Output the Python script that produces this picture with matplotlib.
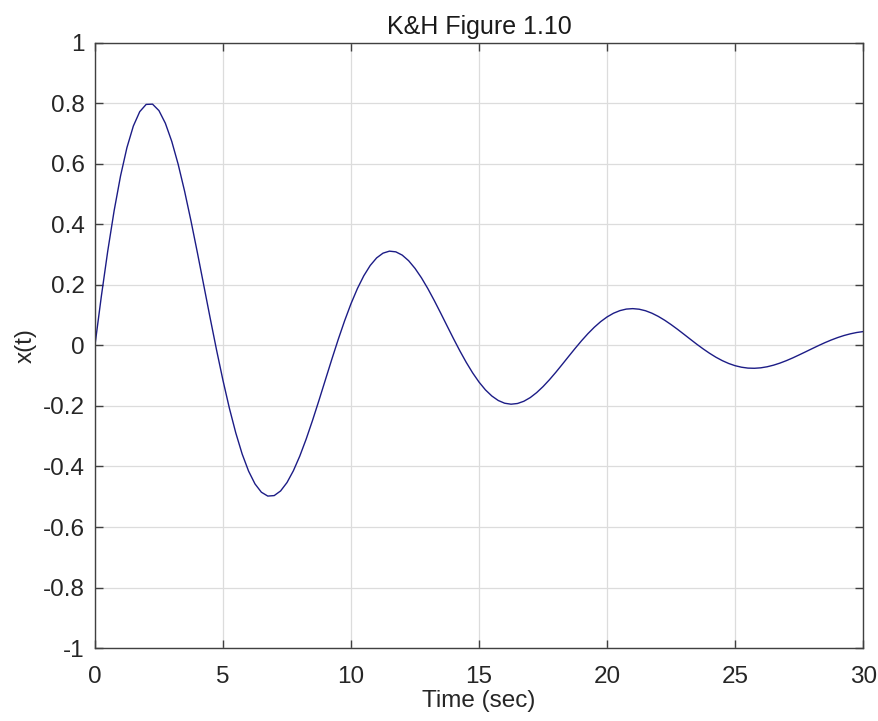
import matplotlib
matplotlib.use("Agg")
import matplotlib.pyplot as plt

# values, every 0.25 s
time_sec = [i * 0.25 for i in range(121)]
x_t = [
    0.0, 0.1618, 0.3113, 0.4448, 0.5595, 0.6532, 0.7243, 0.7718, 0.7957, 0.7965,
    0.7752, 0.7335, 0.6736, 0.5981, 0.5096, 0.4113, 0.3065, 0.1984, 0.0900, -0.0156,
    -0.1156, -0.2075, -0.2891, -0.3590, -0.4153, -0.4575, -0.4850, -0.4977, -0.4961, -0.4808,
    -0.4530, -0.4140, -0.3655, -0.3092, -0.2471, -0.1813, -0.1136, -0.0461, 0.0194, 0.0811,
    0.1377, 0.1876, 0.2299, 0.2638, 0.2888, 0.3045, 0.3111, 0.3088, 0.2980, 0.2795,
    0.2541, 0.2231, 0.1874, 0.1482, 0.1068, 0.0645, 0.0225, -0.0181, -0.0562, -0.0909,
    -0.1214, -0.1471, -0.1673, -0.1821, -0.1911, -0.1943, -0.1920, -0.1846, -0.1724, -0.1560,
    -0.1361, -0.1134, -0.0887, -0.0627, -0.0363, -0.0102, 0.0150, 0.0385, 0.0598, 0.0784,
    0.0939, 0.1061, 0.1147, 0.1198, 0.1213, 0.1194, 0.1143, 0.1062, 0.0956, 0.0829,
    0.0685, 0.0530, 0.0367, 0.0202, 0.0039, -0.0116, -0.0261, -0.0392, -0.0505, -0.0599,
    -0.0672, -0.0722, -0.0751, -0.0757, -0.0742, -0.0707, -0.0654, -0.0586, -0.0505, -0.0414,
    -0.0315, -0.0214, -0.0111, -0.0010, 0.0087, 0.0176, 0.0256, 0.0325, 0.0381, 0.0425,
    0.0455,
]
x_ticks = [0, 5, 10, 15, 20, 25, 30]
y_ticks = [-1, -0.8, -0.6, -0.4, -0.2, 0, 0.2, 0.4, 0.6, 0.8, 1]
y_tick_labels = ["-1", "-0.8", "-0.6", "-0.4", "-0.2", "0", "0.2", "0.4", "0.6", "0.8", "1"]

plt.rcParams['font.family'] = ['Liberation Sans', 'DejaVu Sans']

fig = plt.figure(figsize=(8.79, 7.21), dpi=100)
ax = fig.add_axes([0.108, 0.101, 0.874, 0.840])

ax.plot(time_sec, x_t, color='#1c1c86', linewidth=1.0)

ax.set_xlim(0, 30)
ax.set_ylim(-1, 1)
ax.set_xticks(x_ticks)
ax.set_yticks(y_ticks)
ax.set_yticklabels(y_tick_labels)
ax.grid(True, color='#dcdcdc', linewidth=0.9)
ax.set_axisbelow(True)

ax.tick_params(direction='in', length=6, width=1, color='#404040', labelcolor='#262626',
               labelsize=17.5, top=True, right=True)
ax.tick_params(axis='y', pad=7.5)
ax.tick_params(axis='x', pad=13)
for s in ax.spines.values():
    s.set_color('#404040')
    s.set_linewidth(1.0)

ax.set_title('K&H Figure 1.10', fontsize=18, color='#1a1a1a', pad=6)
ax.set_xlabel('Time (sec)', fontsize=17.5, color='#262626', labelpad=1)
ax.set_ylabel('x(t)', fontsize=17.5, color='#262626', labelpad=4)

fig.savefig('out.png', dpi=100)
